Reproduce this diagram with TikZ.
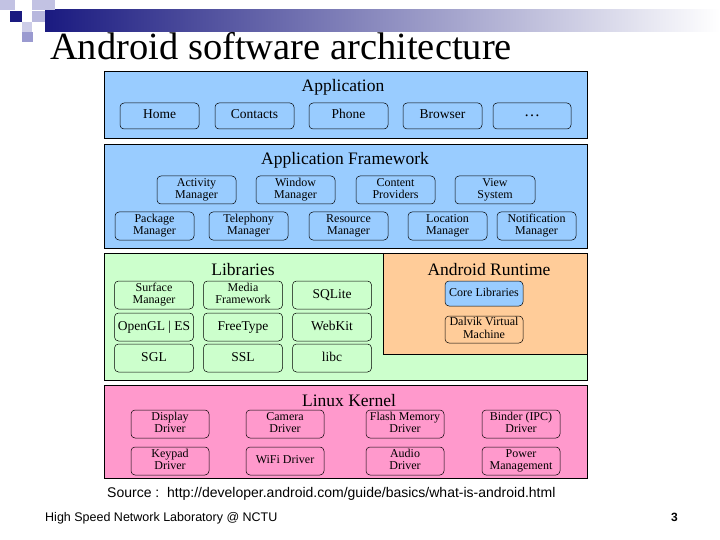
\documentclass[tikz,border=0pt]{standalone}
\usepackage{fontspec}
\setmainfont{Liberation Serif}
\newfontfamily\arial{Liberation Sans}
\newcommand\twol[2]{\strut#1\\\strut#2}
\definecolor{pblue}{HTML}{99CCFF}
\definecolor{pgreen}{HTML}{CCFFCC}
\definecolor{porange}{HTML}{FFCC99}
\definecolor{ppink}{HTML}{FF99CC}
\definecolor{navy}{HTML}{1A1A80}
\definecolor{lnavy}{HTML}{9A9AD0}
\begin{document}
\begin{tikzpicture}[x=1pt,y=-1pt,
  panel/.style={draw=black,line width=0.8pt},
  box/.style={draw=black,line width=0.5pt,rounded corners=4pt},
  lbl/.style={font=\fontsize{12}{12.5}\selectfont,align=center,inner sep=0pt},
  one/.style={font=\fontsize{13.5}{13}\selectfont,text height=9pt,text depth=3pt},
  ttl/.style={font=\fontsize{17.5}{18}\selectfont,inner sep=0pt}]
\useasboundingbox (0,0) rectangle (720,540);
\fill[white] (0,0) rectangle (720,540);
% decoration
\shade[left color=navy,right color=white] (45,10) rectangle (720,32);
\fill[lnavy!60] (0,0) rectangle (15,10);
\fill[lnavy!60] (32,0) rectangle (55,10);
\fill[navy] (10,11) rectangle (22,22);
\fill[lnavy!70] (32,11) rectangle (45,22);
\fill[lnavy!50] (22,22) rectangle (32,32);
\fill[lnavy] (22,32) rectangle (33,42);
\node[anchor=base west,inner sep=0pt,font=\fontsize{38.5}{40}\selectfont] (title) at (50,60) {Android software architecture};
% Application
\draw[panel,fill=pblue] (104,71) rectangle (587,138);
\node[ttl] (tapp) at (343,87) {Application};
\foreach \n/\a/\b/\t in {home/120/199/Home,cont/215/294/Contacts,phone/309/388/Phone,brow/403/482/Browser}
  \node[box,lbl,one,minimum width=\b-\a,minimum height=26] (\n) at ({(\a+\b)/2},116) {\t};
\node[box,lbl,minimum width=78,minimum height=26,font=\fontsize{16}{12}\selectfont] (dots) at (532,116) {\dots};
% Framework
\draw[panel,fill=pblue] (104,144) rectangle (587,248);
\node[ttl] (tfw) at (345,160) {Application Framework};
\foreach \n/\a/\b/\p/\q in {act/157/236/Activity/Manager,win/256/335/Window/Manager,cp/356/435/Content/Providers,vs/455/535/View/System}
  \node[box,lbl,minimum width=\b-\a,minimum height=28] (\n) at ({(\a+\b)/2},190) {\twol{\p}{\q}};
\foreach \n/\a/\b/\p/\q in {pkg/115/194/Package/Manager,tel/209/288/Telephony/Manager,res/309/388/Resource/Manager,loc/408/487/Location/Manager,notif/497/576/Notification/Manager}
  \node[box,lbl,minimum width=\b-\a,minimum height=28] (\n) at ({(\a+\b)/2},226) {\twol{\p}{\q}};
% Libraries
\draw[panel,fill=pgreen] (104,253) rectangle (587,380);
\draw[panel,fill=porange] (383,253) rectangle (587,354);
\node[ttl] (tlib) at (243,270) {Libraries};
\node[ttl] (trt) at (489,270) {Android Runtime};
\node[box,lbl,minimum width=79,minimum height=28] (sm) at (154,295) {\twol{Surface}{Manager}};
\node[box,lbl,minimum width=79,minimum height=28] (mf) at (243,295) {\twol{Media}{Framework}};
\foreach \n/\x/\y/\t in {sql/332/295/SQLite,gl/154/327/{OpenGL | ES},ft/243/327/FreeType,wk/332/327/WebKit,sgl/154/358/SGL,ssl/243/358/SSL,libc/332/358/libc}
  \node[box,lbl,one,minimum width=79,minimum height=28] (\n) at (\x,\y) {\t};
\node[box,lbl,fill=pblue,minimum width=78,minimum height=25] (core) at (484,293.5) {\strut Core Libraries};
\node[box,lbl,minimum width=78,minimum height=27] (dvm) at (484,329.5) {\twol{Dalvik Virtual}{Machine}};
% Linux kernel
\draw[panel,fill=ppink] (104,385) rectangle (587,478);
\node[ttl] (tlk) at (349,401) {Linux Kernel};
\foreach \n/\x/\y/\p/\q in {disp/170/424/Display/Driver,cam/285/424/Camera/Driver,flash/405/424/Flash Memory/Driver,bind/521/424/Binder (IPC)/Driver,key/170/461/Keypad/Driver,aud/405/461/Audio/Driver,pow/521/461/Power/Management}
  \node[box,lbl,minimum width=78,minimum height=28] (\n) at (\x,\y) {\twol{\p}{\q}};
\node[box,lbl,minimum width=78,minimum height=28] (wifi) at (285,461) {\strut WiFi Driver};
% texts
\node[anchor=base west,inner sep=0pt,font=\arial\fontsize{14}{14}\selectfont] (src) at (107,497) {Source :\ \ http://developer.android.com/guide/basics/what-is-android.html};
\node[anchor=base west,inner sep=0pt,font=\arial\fontsize{12.5}{12}\selectfont] (foot) at (45,521) {High Speed Network Laboratory @ NCTU};
\node[anchor=base east,inner sep=0pt,font=\arial\bfseries\fontsize{12}{12}\selectfont] (pg) at (678,521) {3};
\end{tikzpicture}
\end{document}
